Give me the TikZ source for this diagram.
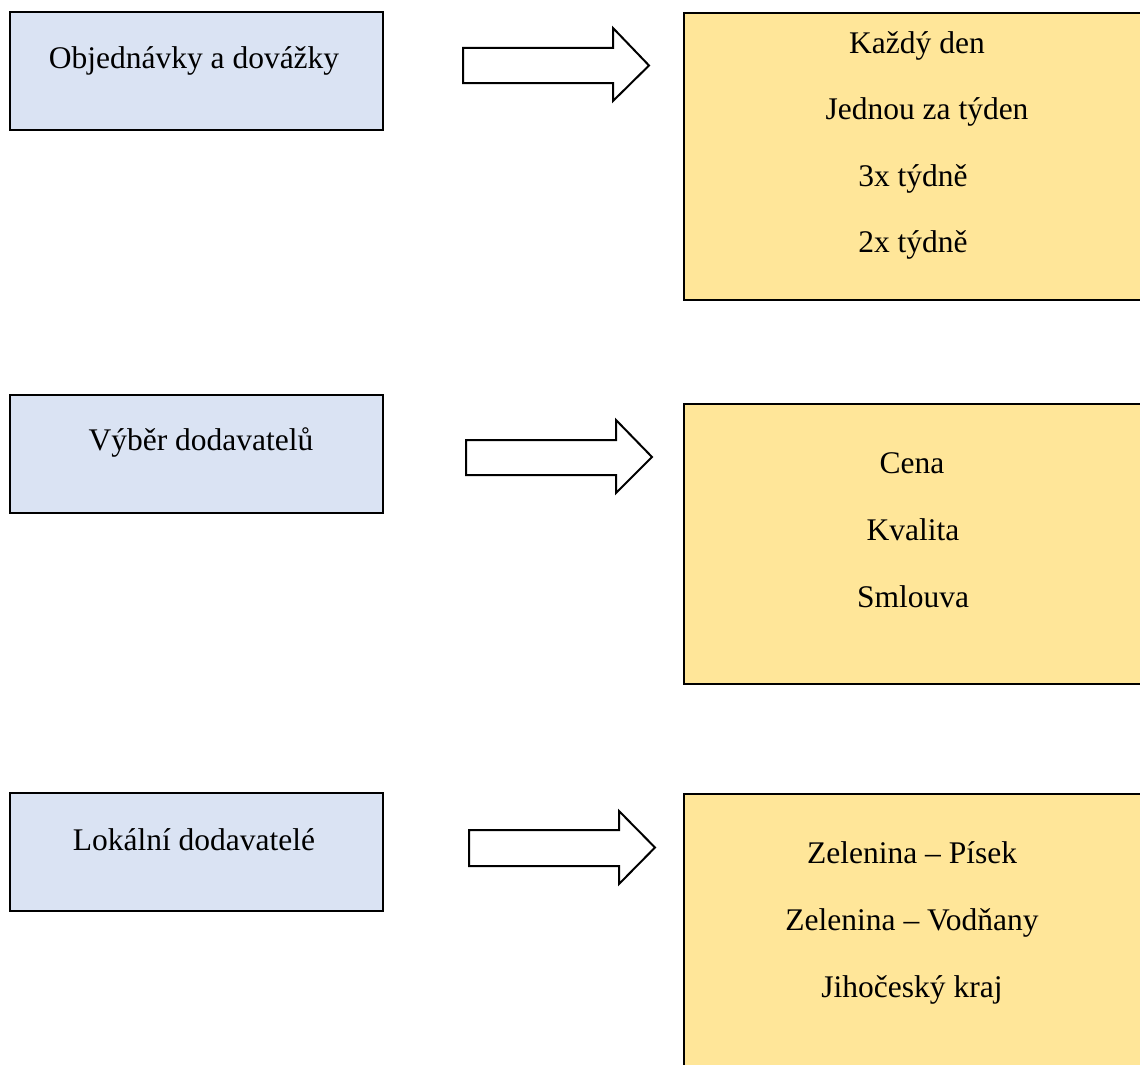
\documentclass[tikz,border=0pt]{standalone}
\usepackage{fontspec}
\setmainfont{Liberation Serif}
\usepackage{xcolor}
\definecolor{boxblue}{HTML}{DAE3F3}
\definecolor{boxyellow}{HTML}{FFE699}

\begin{document}
\begin{tikzpicture}[x=1pt,y=-1pt,
  bluebox/.style={draw=black,fill=boxblue,line width=2.5pt},
  yellowbox/.style={draw=black,fill=boxyellow,line width=2.5pt},
  blockarrow/.style={draw=black,fill=white,line width=2pt,line join=miter},
  lbl/.style={anchor=base,inner sep=0pt,font=\fontsize{31.5}{38}\selectfont}]
  \useasboundingbox (0,0) rectangle (1140,1065);

  % Left boxes
  \draw[bluebox] (10,12) rectangle (383,130);
  \draw[bluebox] (10,395) rectangle (383,513);
  \draw[bluebox] (10,793) rectangle (383,911);
  \node[lbl] (orders) at (194,68) {Objednávky a dovážky};
  \node[lbl] (choice) at (201,450) {Výběr dodavatelů};
  \node[lbl] (local) at (194,850) {Lokální dodavatelé};

  % Block arrows
  \draw[blockarrow] (463,48) -- (613,48) -- (613,28) -- (649,65.5)
    -- (613,101) -- (613,83) -- (463,83) -- cycle;
  \draw[blockarrow] (466,440) -- (616,440) -- (616,420) -- (652,457)
    -- (616,493) -- (616,475) -- (466,475) -- cycle;
  \draw[blockarrow] (469,830) -- (619,830) -- (619,811) -- (655,847.5)
    -- (619,884) -- (619,866) -- (469,866) -- cycle;

  % Right boxes
  \draw[yellowbox] (684,13) rectangle (1150,300);
  \draw[yellowbox] (684,404) rectangle (1150,684);
  \draw[yellowbox] (684,794) rectangle (1150,1080);

  % Frequency
  \node[lbl] (daily) at (917,53) {Každý den};
  \node[lbl] (weekly) at (927,119) {Jednou za týden};
  \node[lbl] (thrice) at (913,186) {3x týdně};
  \node[lbl] (twice) at (913,252) {2x týdně};

  % Criteria
  \node[lbl] (price) at (912,473) {Cena};
  \node[lbl] (quality) at (913,540) {Kvalita};
  \node[lbl] (contract) at (913,607) {Smlouva};

  % Suppliers
  \node[lbl] (pisek) at (912,863) {Zelenina -- Písek};
  \node[lbl] (vodnany) at (912,930) {Zelenina -- Vodňany};
  \node[lbl] (region) at (912,997) {Jihočeský kraj};
\end{tikzpicture}
\end{document}
